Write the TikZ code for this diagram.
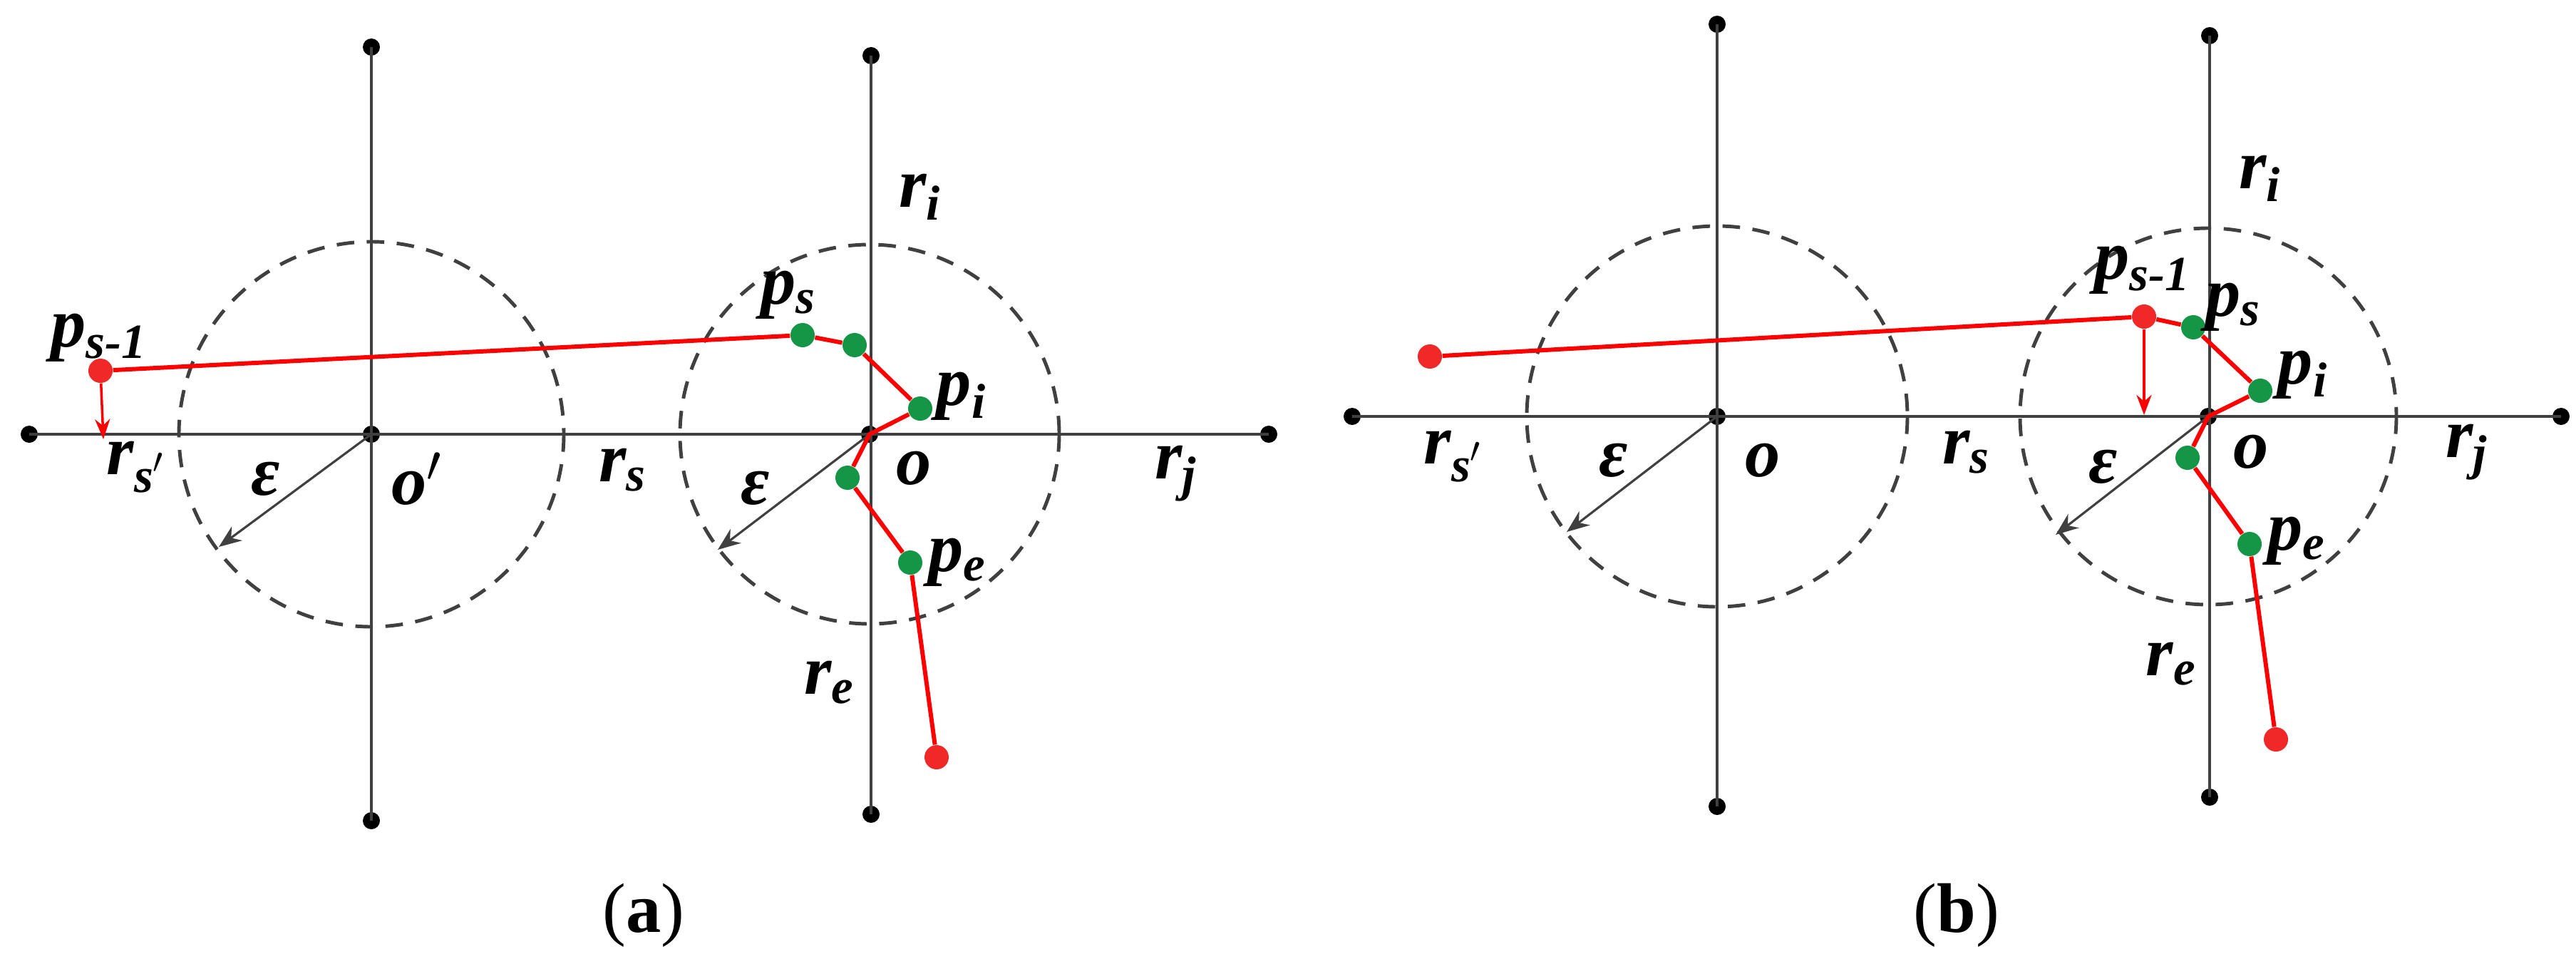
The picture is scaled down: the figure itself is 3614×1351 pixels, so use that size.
\documentclass[tikz,border=0pt]{standalone}
\usepackage{fontspec}
\setmainfont{Liberation Serif}
\usetikzlibrary{arrows.meta}
\usetikzlibrary{calc}

\definecolor{axisgray}{RGB}{64,64,64}
\definecolor{ptred}{RGB}{240,40,40}
\definecolor{ptgreen}{RGB}{20,150,70}

\begin{document}
\begin{tikzpicture}[x=0.01cm,y=-0.01cm,
    axis/.style={draw=axisgray,line width=1.4pt},
    ring/.style={draw=axisgray,line width=1.4pt,dash pattern=on 7pt off 5pt},
    radius arrow/.style={draw=axisgray,line width=0.9pt,-{Stealth[length=9pt,width=7pt]}},
    track/.style={draw=red,line width=1.7pt},
    endpt/.style={circle,fill=black,inner sep=0pt,minimum size=0.24cm},
    gpt/.style={circle,fill=ptgreen,inner sep=0pt,minimum size=0.34cm},
    rpt/.style={circle,fill=ptred,inner sep=0pt,minimum size=0.34cm},
    lab/.style={font=\fontsize{28}{32}\selectfont\bfseries\itshape,inner sep=0pt}]

\useasboundingbox (0,0) rectangle (3614,1351);

% panel (a)
\node[endpt] (a-l) at (41,609) {};
\node[endpt] (a-r) at (1780,609) {};
\node[endpt] (a-t1) at (521,66) {};
\node[endpt] (a-b1) at (521,1151) {};
\node[endpt] (a-t2) at (1222,78) {};
\node[endpt] (a-b2) at (1222,1142) {};
\node[endpt] (a-o1) at (521,609) {};
\node[endpt] (a-o2) at (1220,609) {};

\draw[axis] (a-l.center) -- (a-r.center);
\draw[axis] (a-t1.center) -- (a-b1.center);
\draw[axis] (a-t2.center) -- (a-b2.center);
\draw[ring] (a-o1) circle[radius=270];
\draw[ring] (a-o2) circle[radius=266];

\coordinate (a-e1) at (307,767);
\coordinate (a-e2) at (1007,771);
\draw[radius arrow] (a-o1.center) -- (a-e1);
\draw[radius arrow] (a-o2.center) -- (a-e2);

\node[rpt] (a-prev) at (141,520) {};
\node[gpt] (a-ps) at (1126,470) {};
\node[gpt] (a-q) at (1199,484) {};
\node[gpt] (a-pi) at (1291,573) {};
\node[gpt] (a-g) at (1189,670) {};
\node[gpt] (a-pe) at (1277,789) {};
\node[rpt] (a-end) at (1314,1062) {};
\coordinate (a-foot) at (145,616);

\draw[track] (a-prev) -- (a-ps) -- (a-q) -- (a-pi) -- (a-o2.center) -- (a-g) -- (a-pe) -- (a-end);
\draw[red,line width=1pt,-{Stealth[length=8pt,width=6pt]}] (a-prev) -- (a-foot);

\node[lab] (a-lps1) at (139,474) {p\textsubscript{s-1}};
\node[lab] (a-lrs1) at (191,655) {r\textsubscript{s$'$}};
\node[lab] (a-leps1) at (373,672) {ε};
\node[lab] (a-lo1) at (585,672) {o$'$};
\node[lab] (a-lrs) at (874,659) {r\textsubscript{s}};
\node[lab] (a-leps2) at (1060,685) {ε};
\node[lab] (a-lo2) at (1282,657) {o};
\node[lab] (a-lrj) at (1650,664) {r\textsubscript{j}};
\node[lab] (a-lri) at (1291,276) {r\textsubscript{i}};
\node[lab] (a-lps) at (1106,414) {p\textsubscript{s}};
\node[lab] (a-lpi) at (1349,556) {p\textsubscript{i}};
\node[lab] (a-lpe) at (1343,789) {p\textsubscript{e}};
\node[lab] (a-lre) at (1164,957) {r\textsubscript{e}};
\node[font=\fontsize{28}{32}\selectfont] (a-cap) at (903,1284) {(\textbf{a})};

% panel (b)
\node[endpt] (b-l) at (1897,584) {};
\node[endpt] (b-r) at (3593,584) {};
\node[endpt] (b-t1) at (2409,34) {};
\node[endpt] (b-b1) at (2409,1131) {};
\node[endpt] (b-t2) at (3100,50) {};
\node[endpt] (b-b2) at (3100,1118) {};
\node[endpt] (b-o1) at (2409,584) {};
\node[endpt] (b-o2) at (3098,584) {};

\draw[axis] (b-l.center) -- (b-r.center);
\draw[axis] (b-t1.center) -- (b-b1.center);
\draw[axis] (b-t2.center) -- (b-b2.center);
\draw[ring] (b-o1) circle[radius=267];
\draw[ring] (b-o2) circle[radius=264];

\coordinate (b-e1) at (2198,746);
\coordinate (b-e2) at (2884,750);
\draw[radius arrow] (b-o1.center) -- (b-e1);
\draw[radius arrow] (b-o2.center) -- (b-e2);

\node[rpt] (b-start) at (2006,500) {};
\node[rpt] (b-prev) at (3008,444) {};
\node[gpt] (b-ps) at (3077,459) {};
\node[gpt] (b-pi) at (3171,548) {};
\node[gpt] (b-g) at (3069,642) {};
\node[gpt] (b-pe) at (3156,763) {};
\node[rpt] (b-end) at (3193,1037) {};
\coordinate (b-foot) at (3008,582);

\draw[track] (b-start) -- (b-prev) -- (b-ps) -- (b-pi) -- (b-o2.center) -- (b-g) -- (b-pe) -- (b-end);
\draw[red,line width=1pt,-{Stealth[length=8pt,width=6pt]}] (b-prev) -- (b-foot);

\node[lab] (b-lps1) at (3006,379) {p\textsubscript{s-1}};
\node[lab] (b-lrs1) at (2039,640) {r\textsubscript{s$'$}};
\node[lab] (b-leps1) at (2264,646) {ε};
\node[lab] (b-lo1) at (2473,646) {o};
\node[lab] (b-lrs) at (2759,634) {r\textsubscript{s}};
\node[lab] (b-leps2) at (2951,655) {ε};
\node[lab] (b-lo2) at (3158,634) {o};
\node[lab] (b-lrj) at (3461,634) {r\textsubscript{j}};
\node[lab] (b-lri) at (3171,250) {r\textsubscript{i}};
\node[lab] (b-lps) at (3133,431) {p\textsubscript{s}};
\node[lab] (b-lpi) at (3231,526) {p\textsubscript{i}};
\node[lab] (b-lpe) at (3222,759) {p\textsubscript{e}};
\node[lab] (b-lre) at (3046,931) {r\textsubscript{e}};
\node[font=\fontsize{28}{32}\selectfont] (b-cap) at (2745,1284) {(\textbf{b})};

\end{tikzpicture}
\end{document}
